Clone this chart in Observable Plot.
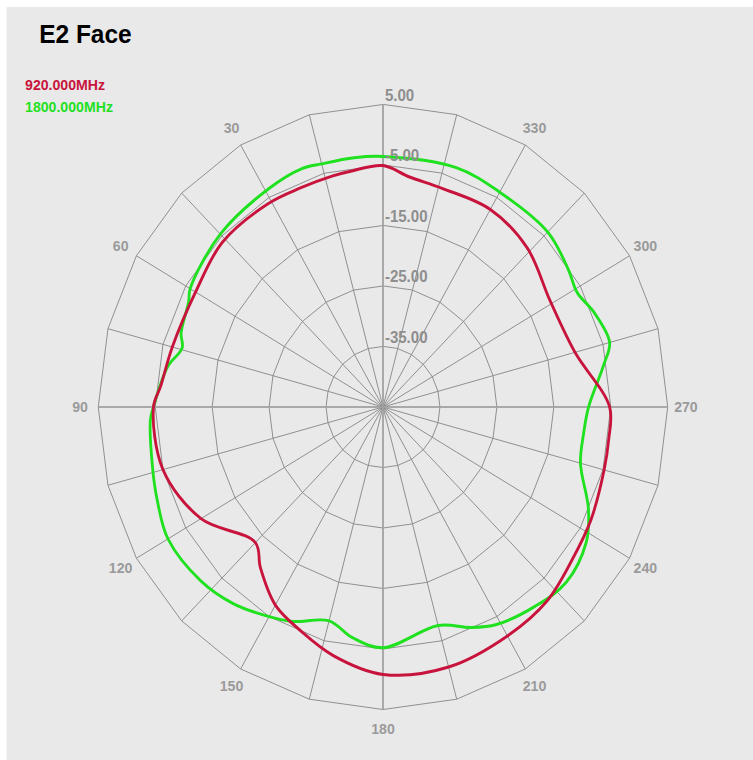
<!DOCTYPE html>
<html><head><meta charset="utf-8">
<script src="https://cdn.jsdelivr.net/npm/d3@7"></script>
<script src="https://cdn.jsdelivr.net/npm/@observablehq/plot@0.6"></script>
<style>
html,body{margin:0;padding:0;background:#fff;overflow:hidden;}
#wrap{position:absolute;left:0;top:0;width:800px;height:760px;transform:scaleX(0.94125);transform-origin:0 0;}
#panel{position:absolute;left:7.4px;top:7px;right:0;bottom:0;background:#e9e9e9;}
#chart{position:absolute;left:0;top:0;}
#title{position:absolute;left:41.6px;top:20.6px;font:bold 26px/1 "Liberation Sans",Arial,sans-serif;color:#000;white-space:nowrap;}
.leg{position:absolute;left:26.6px;font:bold 15px/1 "Liberation Sans",Arial,sans-serif;white-space:nowrap;}
</style></head><body>
<div id="wrap"><div id="panel"></div><div id="chart"></div><div id="title"></div><div id="legend"></div></div>
<script>
const titleText = "E2 Face";
const seriesNames = ["920.000MHz", "1800.000MHz"];
const seriesColors = ["#c8143c", "#1fe11f"];

const rMin = -45, rMax = 5;
const ringTicks = [-35, -25, -15, -5, 5];
const angleTicks = [30, 60, 90, 120, 150, 180, 210, 240, 270, 300, 330];
const spokeAngles = [0,15,30,45,60,75,90,105,120,135,150,165,180,195,210,225,240,255,270,285,300,315,330,345];
const mainAngles = [0, 90, 180, 270];

// 920 MHz
const redAngles = [0, 8, 13, 22, 31, 46, 60, 75, 85, 90, 105, 120, 135, 141, 150, 159, 168, 180, 195, 210, 222, 233, 243, 255, 262, 270, 285, 301, 316, 330, 344, 353];
const redDb     = [-5.1, -5.6, -5.8, -6.0, -5.8, -5.8, -7.0, -6.7, -5.8, -4.7, -5.0, -8.1, -13.3, -10.8, -7.2, -5.2, -3.0, -0.8, -0.5, -1.3, -1.9, -3.3, -4.0, -4.8, -5.0, -5.2, -10.1, -10.8, -8.5, -7.3, -7.4, -6.7];
// 1800 MHz
const greenAngles = [0, 7, 15, 20, 29, 45, 60, 63, 71, 74.5, 80, 89, 93, 104, 111, 120, 132, 141, 150, 156, 165, 172, 180, 195, 203, 209, 219, 228, 238, 245, 255, 263, 270, 280, 285, 293, 299, 305, 315, 330, 342];
const greenDb     = [-3.6, -3.5, -3.4, -3.1, -3.7, -4.6, -5.9, -6.7, -7.5, -8.4, -6.6, -4.9, -4.1, -3.3, -2.5, -1.4, -2.0, -3.2, -5.0, -6.2, -8.4, -6.5, -5.2, -7.6, -5.4, -3.9, -2.6, -1.7, -2.9, -5.2, -9.1, -9.5, -8.9, -5.7, -3.8, -4.8, -6.0, -5.3, -4.1, -4.0, -3.4];

const deg = Math.PI / 180;
const px = (a, v) => -(v - rMin) * Math.sin(a * deg);
const py = (a, v) => (v - rMin) * Math.cos(a * deg);

const red = redAngles.map((a, i) => ({a, v: redDb[i]}));
const green = greenAngles.map((a, i) => ({a, v: greenDb[i]}));
const ringPts = ringTicks.flatMap(t => spokeAngles.map(a => ({t, a})));

const font = "'Liberation Sans', Arial, sans-serif";

const chart = Plot.plot({
  width: 800, height: 760,
  marginLeft: 103.9, marginRight: 91.1, marginTop: 104, marginBottom: 51,
  x: {domain: [-50, 50], axis: null},
  y: {domain: [-50, 50], axis: null},
  style: {background: "transparent", overflow: "visible", fontFamily: font},
  marks: [
    Plot.line(ringPts, {x: d => px(d.a, d.t), y: d => py(d.a, d.t), z: "t", curve: "linear-closed", stroke: "#8c8c8c", strokeWidth: 1}),
    Plot.link(spokeAngles, {x1: () => 0, y1: () => 0, x2: a => px(a, rMax), y2: a => py(a, rMax), stroke: "#8c8c8c", strokeWidth: 1}),
    Plot.link(mainAngles, {x1: () => 0, y1: () => 0, x2: a => px(a, rMax), y2: a => py(a, rMax), stroke: "#a3a3a3", strokeWidth: 1.6}),
    Plot.line(green, {x: d => px(d.a, d.v), y: d => py(d.a, d.v), curve: "catmull-rom-closed", stroke: seriesColors[1], strokeWidth: 3}),
    Plot.line(red, {x: d => px(d.a, d.v), y: d => py(d.a, d.v), curve: "catmull-rom-closed", stroke: seriesColors[0], strokeWidth: 3}),
    Plot.text(ringTicks, {x: () => 0, y: t => py(0, t), text: t => t.toFixed(2), textAnchor: "start", lineAnchor: "bottom", dx: 2, dy: -4, fill: "#8e8e8e", fontSize: 16, fontWeight: "bold"}),
    Plot.text(angleTicks, {x: a => px(a, rMax + 3.2), y: a => py(a, rMax + 3.2), text: a => String(a), fill: "#9a9a9a", fontSize: 15, fontWeight: "bold"})
  ]
});
document.getElementById("chart").appendChild(chart);
document.getElementById("title").textContent = titleText;
const legend = document.getElementById("legend");
const legTops = [77.3, 99.3];
seriesNames.forEach((n, i) => {
  const d = document.createElement("div");
  d.className = "leg";
  d.style.top = legTops[i] + "px";
  d.style.color = seriesColors[i];
  d.textContent = n;
  legend.appendChild(d);
});
</script>
</body></html>
